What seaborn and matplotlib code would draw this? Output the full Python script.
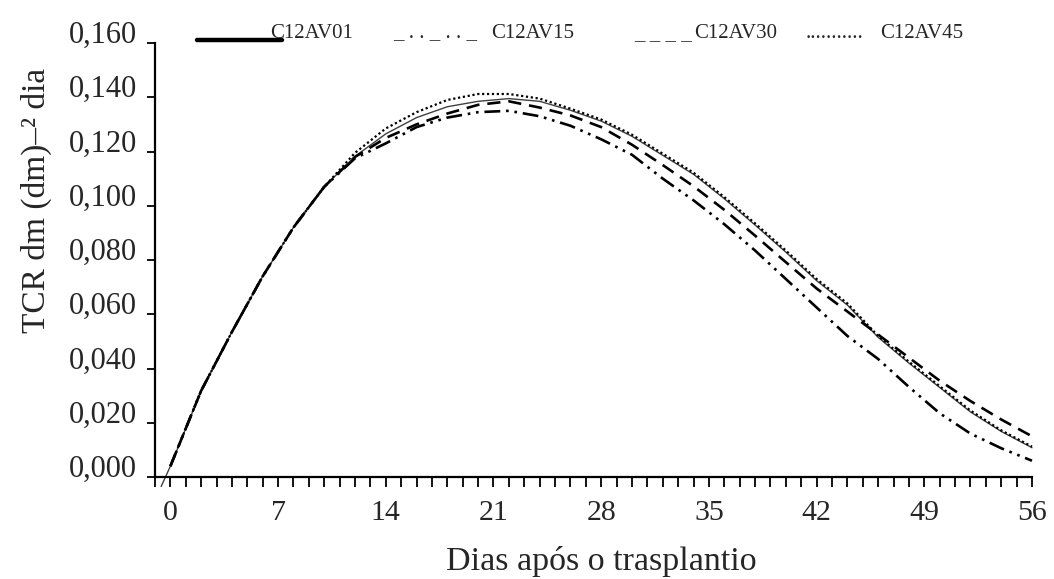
import numpy as np
import pandas as pd
import matplotlib
matplotlib.use("Agg")
import matplotlib.pyplot as plt
from matplotlib.lines import Line2D
from matplotlib.ticker import FuncFormatter, MultipleLocator
import seaborn as sns

# Days after transplanting (shared rising phase, then the series diverge)
days = [0, 2, 4, 6, 8, 10, 12, 14, 16, 18, 20, 22, 24, 26, 28, 30,
        32, 34, 36, 38, 40, 42, 44, 46, 48, 50, 52, 54, 56]

c12av01_days = [-0.6] + days
c12av01 = [-0.0035, 0.0040, 0.0318, 0.0535, 0.0740, 0.0920, 0.1070, 0.1182, 0.1265,
           0.1325, 0.1365, 0.1385, 0.1395, 0.1385, 0.1352, 0.1312, 0.1256, 0.1186,
           0.1116, 0.1026, 0.0929, 0.0829, 0.0724, 0.0634, 0.0515, 0.0420, 0.0330,
           0.0240, 0.0168, 0.0108]
c12av15 = [0.0040, 0.0318, 0.0535, 0.0740, 0.0920, 0.1070, 0.1175, 0.1230, 0.1290,
           0.1325, 0.1345, 0.1350, 0.1330, 0.1295, 0.1245, 0.1188, 0.1100, 0.1020,
           0.0932, 0.0835, 0.0730, 0.0625, 0.0520, 0.0435, 0.0332, 0.0235, 0.0160,
           0.0106, 0.0060]
c12av30 = [0.0040, 0.0318, 0.0535, 0.0740, 0.0920, 0.1070, 0.1180, 0.1250, 0.1300,
           0.1340, 0.1372, 0.1385, 0.1362, 0.1333, 0.1290, 0.1225, 0.1150, 0.1072,
           0.0985, 0.0890, 0.0792, 0.0695, 0.0610, 0.0525, 0.0440, 0.0355, 0.0280,
           0.0212, 0.0150]
c12av45 = [0.0040, 0.0318, 0.0535, 0.0740, 0.0920, 0.1070, 0.1195, 0.1285, 0.1345,
           0.1390, 0.1412, 0.1412, 0.1395, 0.1358, 0.1318, 0.1262, 0.1192, 0.1122,
           0.1032, 0.0935, 0.0835, 0.0730, 0.0640, 0.0520, 0.0425, 0.0335, 0.0245,
           0.0172, 0.0112]

x_ticks = [0, 7, 14, 21, 28, 35, 42, 49, 56]
y_ticks = [0.000, 0.020, 0.040, 0.060, 0.080, 0.100, 0.120, 0.140, 0.160]

sns.set_style("ticks")
plt.rcParams["font.family"] = ["Liberation Serif", "DejaVu Serif"]

W, H = 1054, 579
fig = plt.figure(figsize=(W / 100, H / 100), dpi=100)
ax = fig.add_axes([155 / W, 1 - 477 / H, (1032 - 155) / W, (477 - 43) / H])

styles = [
    ("C12AV01", c12av01_days, c12av01, dict(linestyle="-", lw=1.0, color="0.25")),
    ("C12AV15", days, c12av15, dict(linestyle=(0, (6, 2.2, 1, 2.2, 1, 2.2)), lw=1.9, color="black")),
    ("C12AV30", days, c12av30, dict(linestyle=(0, (5, 3)), lw=1.9, color="black")),
    ("C12AV45", days, c12av45, dict(linestyle=(0, (1, 1.2)), lw=1.6, color="black")),
]
for name, xs, ys, kw in styles:
    sns.lineplot(x=xs, y=ys, ax=ax, sort=False, clip_on=False, **kw)

ax.set_xlim(-1, 56)
ax.set_ylim(0, 0.16)
sns.despine(ax=ax)
for side in ("left", "bottom"):
    ax.spines[side].set_linewidth(1.6)
    ax.spines[side].set_color("black")

ax.set_xticks(x_ticks)
ax.xaxis.set_minor_locator(MultipleLocator(1))
ax.set_yticks(y_ticks)
ax.yaxis.set_major_formatter(FuncFormatter(lambda v, p: f"{v:.3f}".replace(".", ",")))
ax.tick_params(axis="x", which="both", direction="out", length=7.5, width=1.3,
               color="black", labelsize=21.5, pad=9)
ax.tick_params(axis="y", which="major", direction="out", length=6, width=1.3,
               color="black", labelsize=22, pad=7)
for lab in ax.get_yticklabels():
    lab.set_verticalalignment("baseline")

ax.set_xlabel("Dias após o trasplantio", fontsize=24.5)
ax.xaxis.set_label_coords(0.509, -0.16)
ax.set_ylabel("TCR dm (dm)–² dia", fontsize=24)
ax.yaxis.set_label_coords(-0.1175, 0.638)

# Header key drawn as text samples, as in the printed figure
def fx(px):
    return px / W

def fy(py):
    return 1 - py / H

fig.add_artist(Line2D([fx(197), fx(282)], [fy(40), fy(40)], color="black", lw=3.2))
key_items = [
    (270, "C12AV01"),
    (393, "_ . . _ . . _"),
    (491, "C12AV15"),
    (634, "_ _ _ _"),
    (694, "C12AV30"),
    (806, "..........."),
    (880, "C12AV45"),
]
for px, txt in key_items:
    fig.text(fx(px), fy(38), txt, fontsize=15, ha="left", va="baseline")

fig.savefig("out.png", dpi=100, facecolor="white")
